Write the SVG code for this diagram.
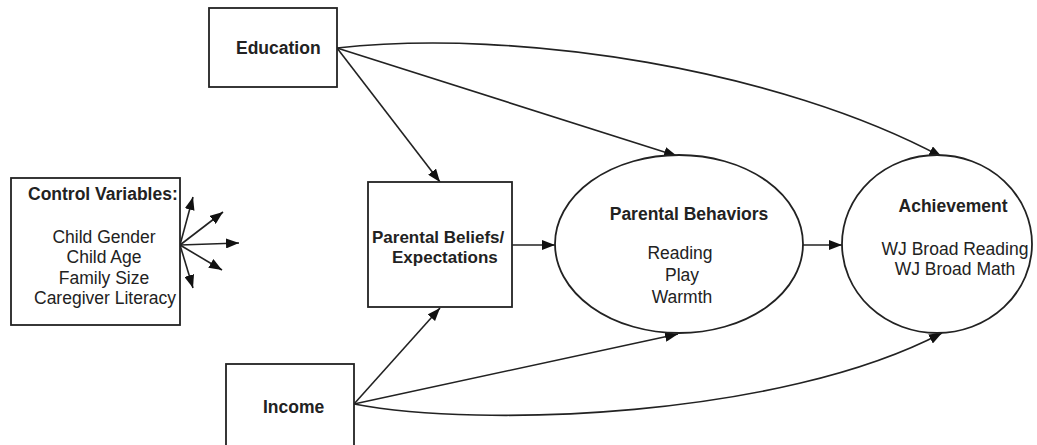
<svg xmlns="http://www.w3.org/2000/svg" width="1037" height="445" viewBox="0 0 1037 445">
<style>
.box{fill:#fff;stroke:#222;stroke-width:1.8}
.t{font-family:"Liberation Sans",Arial,sans-serif;font-size:17.5px;fill:#222}
.b{font-weight:bold}
.c{text-anchor:middle}
.s{font-size:17px}
.e{fill:none;stroke:#222;stroke-width:1.6}
</style>
<defs>
<marker id="ah" markerUnits="userSpaceOnUse" markerWidth="14" markerHeight="10" refX="13" refY="5" orient="auto">
<path d="M0,0 L13,5 L0,10 z" fill="#111"/>
</marker>
</defs>
<rect width="1037" height="445" fill="#fff"/>
<g id="connectors">
<path class="e" d="M337,48 L440,182" marker-end="url(#ah)"/>
<path class="e" d="M337,48 L677,156" marker-end="url(#ah)"/>
<path class="e" d="M337,48 C520,28 780,70 942,157" marker-end="url(#ah)"/>
<path class="e" d="M354,404 L440,308" marker-end="url(#ah)"/>
<path class="e" d="M354,404 L678,334" marker-end="url(#ah)"/>
<path class="e" d="M354,404 C480,428 780,418 942,333" marker-end="url(#ah)"/>
<path class="e" d="M512,245 L555,245" marker-end="url(#ah)"/>
<path class="e" d="M803,245 L842,245" marker-end="url(#ah)"/>
<path class="e" d="M180,245 L193,197" marker-end="url(#ah)"/>
<path class="e" d="M180,245 L223,212" marker-end="url(#ah)"/>
<path class="e" d="M180,245 L239,243" marker-end="url(#ah)"/>
<path class="e" d="M180,245 L222,270" marker-end="url(#ah)"/>
<path class="e" d="M180,245 L193,288" marker-end="url(#ah)"/>
</g>
<g id="education">
<rect class="box" x="209" y="8" width="128" height="79"/>
<text class="t b" x="236" y="54">Education</text>
</g>
<g id="income">
<rect class="box" x="226" y="364" width="128" height="90"/>
<text class="t b" x="263" y="413">Income</text>
</g>
<g id="controls">
<rect class="box" x="11" y="178" width="169" height="147"/>
<text class="t b" x="28" y="200">Control Variables:</text>
<text class="t c" x="104" y="243">Child Gender</text>
<text class="t c" x="104" y="263">Child Age</text>
<text class="t c" x="104" y="284">Family Size</text>
<text class="t c" x="105" y="304">Caregiver Literacy</text>
</g>
<g id="beliefs">
<rect class="box" x="368" y="182" width="144" height="125"/>
<text class="t b s" x="372" y="243">Parental Beliefs/</text>
<text class="t b s" x="392" y="263">Expectations</text>
</g>
<g id="behaviors">
<ellipse class="box" cx="679" cy="244" rx="124" ry="89"/>
<text class="t b c" x="689" y="220">Parental Behaviors</text>
<text class="t c" x="680" y="259">Reading</text>
<text class="t c" x="682" y="281">Play</text>
<text class="t c" x="682" y="303">Warmth</text>
</g>
<g id="achievement">
<ellipse class="box" cx="937" cy="244" rx="95" ry="89"/>
<text class="t b c" x="953" y="212">Achievement</text>
<text class="t c" x="955" y="255">WJ Broad Reading</text>
<text class="t c" x="955" y="275">WJ Broad Math</text>
</g>
</svg>
